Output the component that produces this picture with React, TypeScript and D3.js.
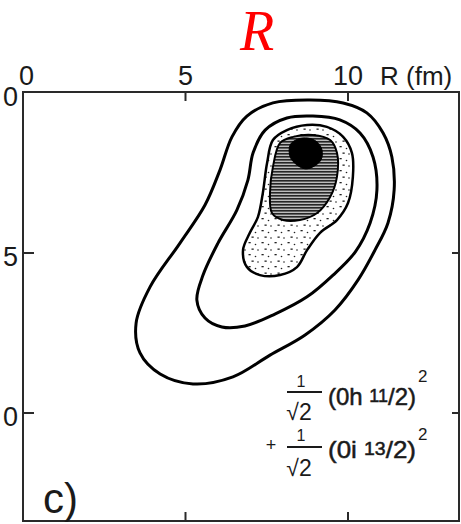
import React from "react";
import * as d3 from "d3";

// Axis ticks (fm)
const X_TICKS = [0, 5, 10];
const X_TICK_LABELS = ["0", "5", "10"];
const Y_TICKS = [10, 5, 0];
const Y_TICK_LABELS = ["0", "5", "0"];

// Contour outlines of the density, [R, y] in fm, outermost first
const CONTOUR_1: [number, number][] = [
  [7.69, 9.69], [8.83, 9.78], [9.85, 9.69], [10.58, 9.38], [11.08, 8.75],
  [11.35, 8.0], [11.42, 6.97], [11.23, 5.94], [10.83, 5.09], [10.31, 4.16],
  [9.6, 3.22], [8.68, 2.44], [7.6, 1.81], [6.46, 1.13], [5.23, 0.91],
  [4.22, 1.22], [3.6, 1.88], [3.48, 2.81], [3.91, 3.94], [4.83, 5.31],
  [5.6, 6.5], [6.06, 7.59], [6.43, 8.63], [6.89, 9.28],
];
const CONTOUR_2: [number, number][] = [
  [8.12, 9.22], [8.92, 9.28], [9.75, 9.16], [10.37, 8.75], [10.77, 8.0],
  [10.89, 6.97], [10.68, 5.94], [10.22, 5.03], [9.54, 4.31], [8.74, 3.63],
  [7.75, 3.09], [6.83, 2.72], [6.12, 2.69], [5.6, 2.97], [5.35, 3.53],
  [5.54, 4.31], [6.0, 5.31], [6.58, 6.34], [6.92, 7.28], [7.08, 8.13],
  [7.45, 8.84],
];
const CONTOUR_3: [number, number][] = [
  [7.69, 8.53], [8.12, 8.84], [8.74, 9.0], [9.35, 8.94], [9.85, 8.63],
  [10.12, 8.13], [10.15, 7.38], [10.0, 6.56], [9.66, 6.03], [9.14, 5.63],
  [8.74, 5.09], [8.43, 4.56], [7.91, 4.31], [7.29, 4.31], [6.89, 4.56],
  [6.77, 5.09], [6.98, 5.63], [7.23, 6.13], [7.38, 6.88], [7.51, 7.81],
];
const CONTOUR_4: [number, number][] = [
  [7.91, 8.44], [8.31, 8.63], [8.92, 8.69], [9.45, 8.53], [9.66, 8.13],
  [9.66, 7.38], [9.45, 6.75], [9.05, 6.25], [8.52, 6.03], [8.0, 6.03],
  [7.66, 6.25], [7.6, 6.88], [7.69, 7.69],
];
const CONTOUR_5: [number, number][] = [
  [8.22, 8.38], [8.46, 8.56], [8.77, 8.59], [9.05, 8.47], [9.2, 8.22],
  [9.17, 7.91], [8.92, 7.69], [8.68, 7.63], [8.43, 7.75], [8.22, 8.0],
];

const W = 461;
const H = 524;
const FRAME = { left: 23, top: 92, right: 459, bottom: 521 };

const xScale = d3.scaleLinear().domain([0, 10]).range([23, 348]);
const yScale = d3.scaleLinear().domain([0, 10]).range([413, 93]);

const closedLine = d3
  .line<[number, number]>()
  .x((d) => xScale(d[0]))
  .y((d) => yScale(d[1]))
  .curve(d3.curveCatmullRomClosed.alpha(0.5));

const INK = "#1a1a1a";
const SANS = "'Liberation Sans', Arial, sans-serif";

export default function App() {
  return (
    <svg
      width={W}
      height={H}
      viewBox={`0 0 ${W} ${H}`}
      style={{ position: "absolute", left: 0, top: 0, background: "#fff" }}
    >
      <defs>
        <pattern id="hatch" width="6" height="3" patternUnits="userSpaceOnUse">
          <rect width="6" height="3" fill="#bdbdbd" />
          <rect width="6" height="1.6" fill="#262626" />
        </pattern>
        <pattern id="dots" width="13" height="12" patternUnits="userSpaceOnUse">
          <rect width="13" height="12" fill="#fff" />
          <rect x="1.5" y="2" width="2.2" height="1.3" fill="#222" />
          <circle cx="8.5" cy="4.5" r="0.8" fill="#222" />
          <rect x="4.5" y="8.5" width="2.2" height="1.3" fill="#222" />
          <circle cx="11" cy="10" r="0.8" fill="#222" />
        </pattern>
      </defs>

      <rect width={W} height={H} fill="#fff" />

      {/* Title */}
      <text
        x={257}
        y={50}
        textAnchor="middle"
        fill="#ff0000"
        fontFamily="'Liberation Serif', 'Times New Roman', serif"
        fontStyle="italic"
        fontSize={56}
      >
        R
      </text>

      {/* Frame */}
      <rect
        x={FRAME.left}
        y={FRAME.top}
        width={FRAME.right - FRAME.left}
        height={FRAME.bottom - FRAME.top}
        fill="none"
        stroke="#2a2a2a"
        strokeWidth={2}
      />

      {/* Ticks on top and bottom */}
      {X_TICKS.filter((v) => v > 0).map((v) => (
        <g key={`xt${v}`} stroke="#2a2a2a" strokeWidth={2}>
          <line x1={xScale(v)} x2={xScale(v)} y1={FRAME.top} y2={FRAME.top + 9} />
          <line x1={xScale(v)} x2={xScale(v)} y1={FRAME.bottom} y2={FRAME.bottom - 9} />
        </g>
      ))}
      {/* Ticks on left and right */}
      {Y_TICKS.filter((v) => v < 10).map((v) => (
        <g key={`yt${v}`} stroke="#2a2a2a" strokeWidth={2}>
          <line x1={FRAME.left} x2={FRAME.left + 11} y1={yScale(v)} y2={yScale(v)} />
          <line x1={FRAME.right} x2={FRAME.right - 7} y1={yScale(v)} y2={yScale(v)} />
        </g>
      ))}

      {/* Top axis labels */}
      {X_TICKS.map((v, i) => (
        <text
          key={`xl${v}`}
          x={v === 0 ? xScale(0) - 4 : xScale(v)}
          y={85}
          textAnchor={v === 0 ? "start" : "middle"}
          fontFamily={SANS}
          fontSize={27}
          fill={INK}
        >
          {X_TICK_LABELS[i]}
        </text>
      ))}
      <text x={380} y={85} fontFamily={SANS} fontSize={26} fill={INK}>
        R (fm)
      </text>

      {/* Left axis labels */}
      {Y_TICKS.map((v, i) => (
        <text
          key={`yl${v}`}
          x={18}
          y={yScale(v) + 13}
          textAnchor="end"
          fontFamily={SANS}
          fontSize={27}
          fill={INK}
        >
          {Y_TICK_LABELS[i]}
        </text>
      ))}

      {/* Density contours */}
      <path d={closedLine(CONTOUR_1) ?? ""} fill="none" stroke="#000" strokeWidth={3} />
      <path d={closedLine(CONTOUR_2) ?? ""} fill="none" stroke="#000" strokeWidth={3} />
      <path d={closedLine(CONTOUR_3) ?? ""} fill="url(#dots)" stroke="#000" strokeWidth={2.5} />
      <path d={closedLine(CONTOUR_4) ?? ""} fill="url(#hatch)" stroke="#000" strokeWidth={2} />
      <path d={closedLine(CONTOUR_5) ?? ""} fill="#000" stroke="#000" strokeWidth={1} />

      {/* Wave-function annotation */}
      <g fontFamily={SANS} fill={INK}>
        <text x={301} y={387} textAnchor="middle" fontSize={16}>1</text>
        <line x1={287} x2={322} y1={392} y2={392} stroke={INK} strokeWidth={2} />
        <text x={299} y={420} textAnchor="middle" fontSize={23}>√2</text>
        <text x={328} y={405} fontSize={24} stroke={INK} strokeWidth={0.5} textLength={88} lengthAdjust="spacingAndGlyphs">
          (0h <tspan fontSize={18} dy={-3}>11</tspan>
          <tspan dy={3}>/2)</tspan>
        </text>
        <text x={418} y={382} fontSize={17}>2</text>

        <text x={271} y={451} textAnchor="middle" fontSize={18}>+</text>
        <text x={301} y={441} textAnchor="middle" fontSize={16}>1</text>
        <line x1={287} x2={322} y1={447} y2={447} stroke={INK} strokeWidth={2} />
        <text x={299} y={476} textAnchor="middle" fontSize={23}>√2</text>
        <text x={328} y={458} fontSize={24} stroke={INK} strokeWidth={0.5} textLength={88} lengthAdjust="spacingAndGlyphs">
          (0i <tspan fontSize={18} dy={-3}>13</tspan>
          <tspan dy={3}>/2)</tspan>
        </text>
        <text x={418} y={440} fontSize={17}>2</text>
      </g>

      {/* Panel label */}
      <text x={43} y={513} fontFamily={SANS} fontSize={42} fill={INK}>
        c)
      </text>
    </svg>
  );
}
